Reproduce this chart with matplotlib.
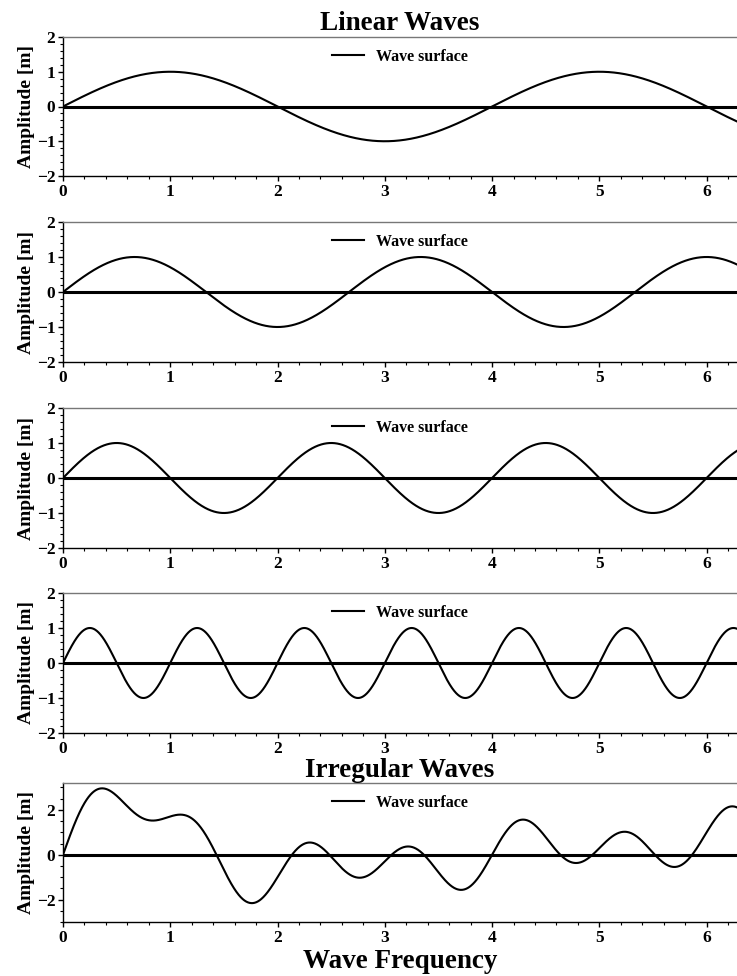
import numpy as np
import matplotlib
matplotlib.use("Agg")
import matplotlib.pyplot as plt
from matplotlib.ticker import MultipleLocator

# ---- data ----
# periods of the four regular (linear) waves read from the crossings
wave_periods = [4.0, 8.0 / 3.0, 2.0, 1.0]
wave_amplitudes = [1.0, 1.0, 1.0, 1.0]
# irregular wave = superposition of the four linear components
irregular_components = [0, 1, 2, 3]
x_ticks = [0, 1, 2, 3, 4, 5, 6]
x_max = 2 * np.pi
linear_ylim = (-2, 2)
irregular_ylim = (-3, 3.2)
titles = ["Linear Waves", "Irregular Waves"]
legend_label = "Wave surface"
y_label = "Amplitude [m]"
x_label = "Wave Frequency"

plt.rcParams['font.family'] = ['Liberation Serif', 'DejaVu Serif']
plt.rcParams['font.weight'] = 'bold'
plt.rcParams['mathtext.default'] = 'regular'

fig = plt.figure(figsize=(7.37, 9.76), dpi=100)

tops = [37, 222, 408, 593, 783]
bottoms = [176, 362, 548, 733, 922]
H = 976.0
left = 63 / 737.0
width = 1.0 - left

x = np.linspace(0, x_max, 2000)

def style(ax, major_y, minor_y):
    ax.set_xlim(0, x_max)
    ax.set_xticks(x_ticks)
    ax.xaxis.set_minor_locator(MultipleLocator(0.2))
    ax.yaxis.set_major_locator(MultipleLocator(major_y))
    ax.yaxis.set_minor_locator(MultipleLocator(minor_y))
    ax.spines['right'].set_visible(False)
    ax.spines['top'].set_color('#777777')
    ax.spines['left'].set_color('black')
    ax.spines['bottom'].set_color('black')
    for s in ax.spines.values():
        s.set_linewidth(1.0)
    ax.tick_params(which='major', direction='out', length=3.6, width=1, labelsize=12.5, pad=2)
    ax.tick_params(which='minor', direction='out', length=2.2, width=0.8)
    for lab in ax.get_xticklabels() + ax.get_yticklabels():
        lab.set_fontweight('bold')
    ax.set_ylabel(y_label, fontsize=14, fontweight='bold', labelpad=1)
    ax.legend(loc='upper center', frameon=False,
              handlelength=2.0, handletextpad=0.8, borderaxespad=0.35,
              prop={'weight': 'bold', 'size': 11.5})

axes = []
for i in range(5):
    b = 1 - bottoms[i] / H
    h = (bottoms[i] - tops[i]) / H
    ax = fig.add_axes([left, b, width, h])
    axes.append(ax)

for i, (T, A) in enumerate(zip(wave_periods, wave_amplitudes)):
    ax = axes[i]
    y = A * np.sin(2 * np.pi / T * x)
    ax.plot(x, y, color='black', lw=1.5, label=legend_label)
    ax.axhline(0, color='black', lw=2.2)
    ax.set_ylim(*linear_ylim)
    style(ax, 1, 0.2)

ax = axes[4]
y_irr = np.zeros_like(x)
for k in irregular_components:
    y_irr += wave_amplitudes[k] * np.sin(2 * np.pi / wave_periods[k] * x)
ax.plot(x, y_irr, color='black', lw=1.5, label=legend_label)
ax.axhline(0, color='black', lw=2.2)
ax.set_ylim(*irregular_ylim)
style(ax, 2, 0.5)
ax.set_xlabel(x_label, fontsize=19.5, fontweight='bold', labelpad=2.5)

axes[0].set_title(titles[0], fontsize=19.5, fontweight='bold', pad=5)
axes[4].set_title(titles[1], fontsize=19.5, fontweight='bold', pad=3)

fig.savefig("out.png", dpi=100)
